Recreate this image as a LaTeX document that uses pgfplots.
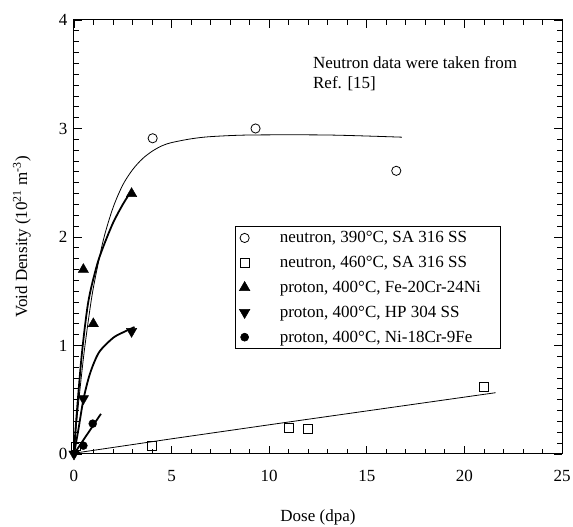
\documentclass[border=0pt]{standalone}
\usepackage{pgfplots}
\pgfplotsset{compat=1.18}
\usepackage{fontspec}
\setmainfont{Liberation Serif}
\newcommand{\fs}{\fontsize{17}{20}\selectfont}
\pgfplotsset{every x tick label/.append style={yshift=-13pt}}
\begin{document}
\begin{tikzpicture}
\path[use as bounding box] (-74pt,-73pt) rectangle (499pt,454pt);
\begin{axis}[
  scale only axis, width=488pt, height=434pt,
  xmin=0, xmax=25, ymin=0, ymax=4,
  xtick={0,5,...,25}, ytick={0,1,2,3,4},
  minor x tick num=4, minor y tick num=9,
  tick align=inside, major tick length=8pt, minor tick length=5pt,
  every tick/.style={black, line width=0.8pt},
  axis line style={line width=1pt},
  tick label style={font=\fs, /pgf/number format/assume math mode=true},
  y tick label style={xshift=-3pt},
  xlabel={Dose (dpa)}, ylabel={Void Density (10\textsuperscript{21} m\textsuperscript{-3})},
  label style={font=\fs},
  xlabel style={at={(axis description cs:0.5,-0.145)}, anchor=center},
  ylabel style={at={(axis description cs:-0.107,0.5)}, anchor=center},
  clip=false,
  legend style={at={(0.33,0.525)}, anchor=north west, font=\fs, draw=black, line width=0.8pt,
    inner xsep=4pt, inner ysep=5pt, row sep=12pt, column sep=30pt,
    nodes={inner ysep=0pt, inner xsep=0pt}},
  legend cell align=left,
  legend image code/.code={\draw[line width=0.6pt] plot coordinates {(0.48cm,0cm)};},
]
% fit curves
\addplot[black, line width=0.8pt, smooth, forget plot] coordinates {
(0,0) (0.12,0.26) (0.25,0.50) (0.5,0.91) (0.75,1.25) (1.0,1.54) (1.5,1.97) (2.0,2.27) (2.5,2.48) (3.0,2.62) (3.5,2.72) (4.0,2.79) (4.5,2.84) (5.0,2.87) (6,2.905) (7,2.925) (9,2.94) (13,2.94) (16.8,2.92)};
\addplot[black, line width=1.8pt, smooth, forget plot] coordinates {
(0,0) (0.1,0.28) (0.39,0.9) (0.73,1.40) (1.16,1.73) (1.5,1.91) (2.0,2.13) (2.5,2.30) (2.85,2.40)};
\addplot[black, line width=1.8pt, smooth, forget plot] coordinates {
(0,0) (0.22,0.22) (0.48,0.50) (0.75,0.70) (1.0,0.83) (1.33,0.95) (2.0,1.07) (2.5,1.12) (3.1,1.17)};
\addplot[black, line width=1.8pt, forget plot] coordinates {(0,0) (1.38,0.37)};
\addplot[black, line width=0.8pt, forget plot] coordinates {(0.1,0.01) (5,0.14) (11,0.295) (21.6,0.565)};
% data
\addplot[only marks, mark=o, mark size=4.6pt, mark options={fill=white, line width=0.8pt}] coordinates {(4.03,2.91) (9.30,3.00) (16.51,2.61)};
\addlegendentry{neutron, 390\textdegree C, SA 316 SS}
\addplot[only marks, mark=square, mark size=4.4pt, mark options={fill=white, line width=0.8pt}] coordinates {(0.1,0.07) (3.98,0.074) (10.99,0.24) (12.0,0.23) (21.0,0.62)};
\addlegendentry{neutron, 460\textdegree C, SA 316 SS}
\addplot[only marks, mark=triangle*, mark size=6pt, mark options={fill=black}] coordinates {(0.48,1.70) (0.99,1.20) (2.95,2.40)};
\addlegendentry{proton, 400\textdegree C, Fe-20Cr-24Ni\hspace*{16pt}}
\addplot[only marks, mark=triangle*, mark size=6pt, mark options={fill=black, rotate=180}] coordinates {(0,0) (0.48,0.51) (2.95,1.13)};
\addlegendentry{proton, 400\textdegree C, HP 304 SS}
\addplot[only marks, mark=*, mark size=4pt, mark options={fill=black}] coordinates {(0.48,0.077) (0.96,0.28)};
\addlegendentry{proton, 400\textdegree C, Ni-18Cr-9Fe}
\node[anchor=north west, inner sep=0pt, align=left, font=\fs] at (axis cs:12.24,3.665) {Neutron data were taken from\\Ref. [15]};
\end{axis}
\end{tikzpicture}
\end{document}
